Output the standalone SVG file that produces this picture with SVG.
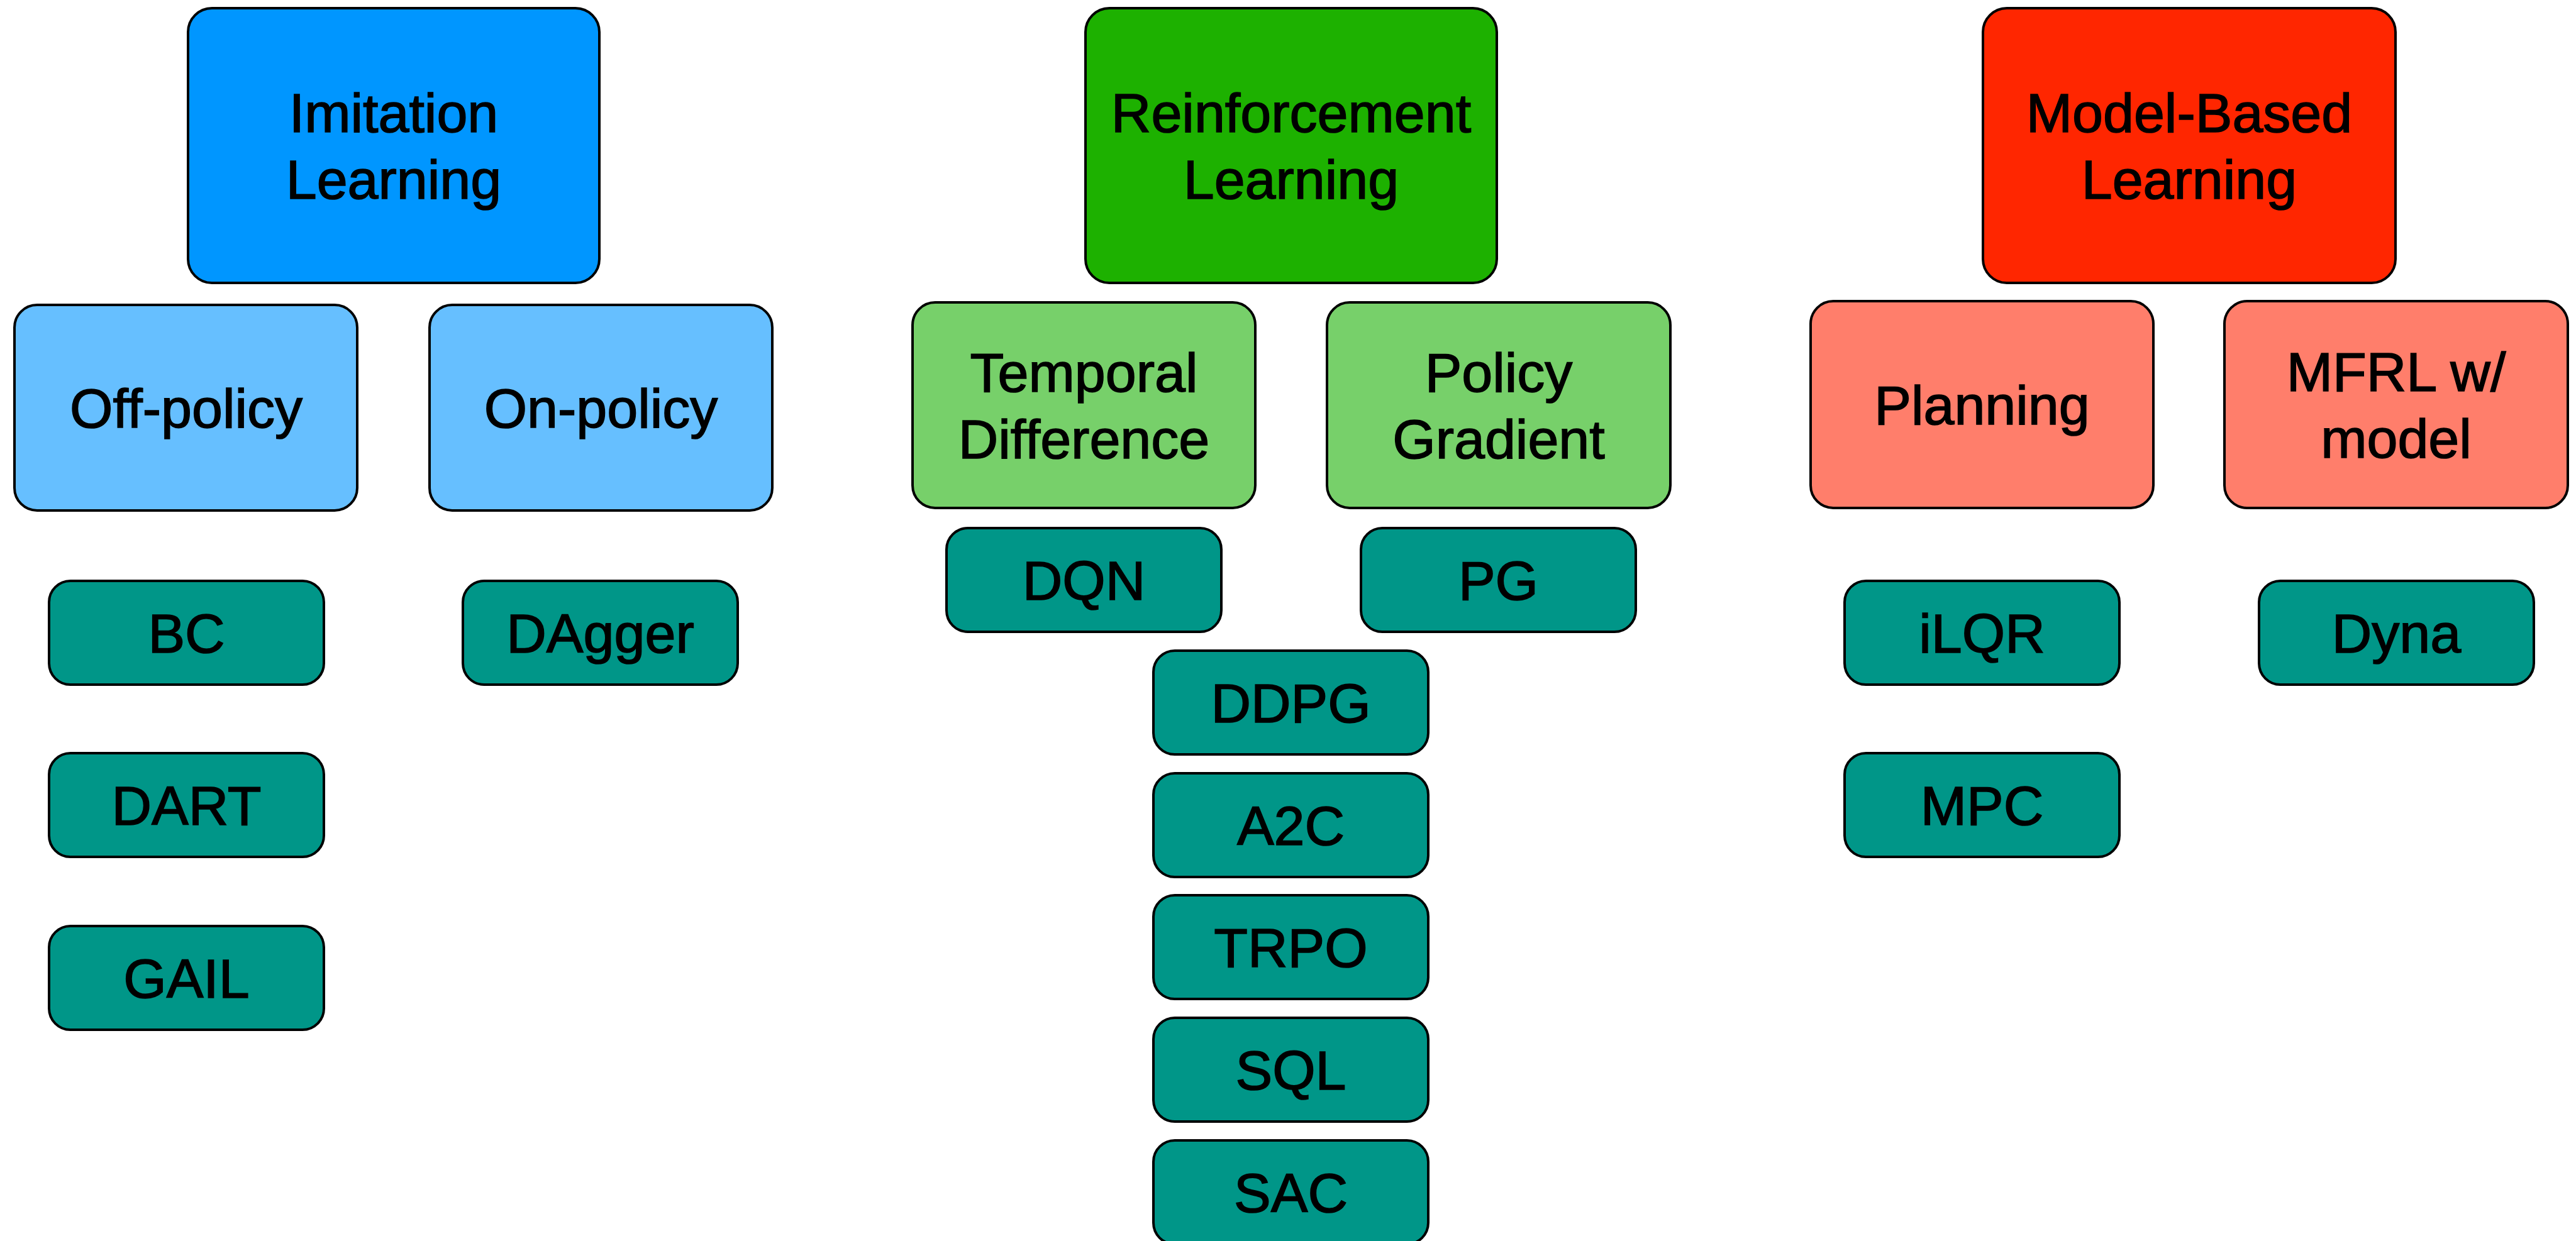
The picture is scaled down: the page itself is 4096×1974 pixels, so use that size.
<svg xmlns="http://www.w3.org/2000/svg" width="4096" height="1974" viewBox="0 0 4096 1974">
  <style>
    .box { stroke: #000; stroke-width: 4; }
    .top { rx: 38px; ry: 38px; }
    .mid { rx: 36px; ry: 36px; }
    .alg { rx: 34px; ry: 34px; fill: #009688; }
    .il  { fill: #0096FF; }
    .il2 { fill: #66BFFF; }
    .rl  { fill: #1DB100; }
    .rl2 { fill: #77D06A; }
    .mb  { fill: #FF2600; }
    .mb2 { fill: #FF7E6B; }
    text { font-family: "Liberation Sans", Arial, Helvetica, sans-serif; font-size: 88px; fill: #000; stroke: #000; stroke-width: 1.6px; text-anchor: middle; }
  </style>
  <rect width="4096" height="1974" fill="#fff"/>

  <!-- Imitation learning branch -->
  <g id="imitation-learning">
    <rect class="box top il" x="299" y="13" width="654" height="437"/>
    <text x="626" y="209.5">Imitation</text>
    <text x="626" y="315.5">Learning</text>
  </g>
  <g id="off-policy">
    <rect class="box mid il2" x="23" y="485" width="545" height="327"/>
    <text x="296" y="679.5">Off-policy</text>
  </g>
  <g id="on-policy">
    <rect class="box mid il2" x="683" y="485" width="545" height="327"/>
    <text x="955.5" y="679.5">On-policy</text>
  </g>
  <g id="bc">
    <rect class="box alg" x="78" y="924" width="437" height="165"/>
    <text x="296.5" y="1037.5">BC</text>
  </g>
  <g id="dart">
    <rect class="box alg" x="78" y="1198" width="437" height="165"/>
    <text x="296.5" y="1311.5">DART</text>
  </g>
  <g id="gail">
    <rect class="box alg" x="78" y="1473" width="437" height="165"/>
    <text x="296.5" y="1586.5">GAIL</text>
  </g>
  <g id="dagger">
    <rect class="box alg" x="736" y="924" width="437" height="165"/>
    <text x="954.5" y="1037.5">DAgger</text>
  </g>

  <!-- Reinforcement learning branch -->
  <g id="reinforcement-learning">
    <rect class="box top rl" x="1726" y="13" width="654" height="437"/>
    <text x="2053" y="209.5">Reinforcement</text>
    <text x="2053" y="315.5">Learning</text>
  </g>
  <g id="temporal-difference">
    <rect class="box mid rl2" x="1451" y="481" width="545" height="327"/>
    <text x="1723.5" y="622.5">Temporal</text>
    <text x="1723.5" y="728.5">Difference</text>
  </g>
  <g id="policy-gradient">
    <rect class="box mid rl2" x="2110" y="481" width="546" height="327"/>
    <text x="2383" y="622.5">Policy</text>
    <text x="2383" y="728.5">Gradient</text>
  </g>
  <g id="dqn">
    <rect class="box alg" x="1505" y="840" width="437" height="165"/>
    <text x="1723.5" y="953.5">DQN</text>
  </g>
  <g id="pg">
    <rect class="box alg" x="2164" y="840" width="437" height="165"/>
    <text x="2382.5" y="953.5">PG</text>
  </g>
  <g id="ddpg">
    <rect class="box alg" x="1834" y="1035" width="437" height="165"/>
    <text x="2052.5" y="1148.5">DDPG</text>
  </g>
  <g id="a2c">
    <rect class="box alg" x="1834" y="1230" width="437" height="165"/>
    <text x="2052.5" y="1343.5">A2C</text>
  </g>
  <g id="trpo">
    <rect class="box alg" x="1834" y="1424" width="437" height="165"/>
    <text x="2052.5" y="1537.5">TRPO</text>
  </g>
  <g id="sql">
    <rect class="box alg" x="1834" y="1619" width="437" height="165"/>
    <text x="2052.5" y="1732.5">SQL</text>
  </g>
  <g id="sac">
    <rect class="box alg" x="1834" y="1814" width="437" height="165"/>
    <text x="2052.5" y="1927.5">SAC</text>
  </g>

  <!-- Model-based learning branch -->
  <g id="model-based-learning">
    <rect class="box top mb" x="3153" y="13" width="656" height="437"/>
    <text x="3481" y="209.5">Model-Based</text>
    <text x="3481" y="315.5">Learning</text>
  </g>
  <g id="planning">
    <rect class="box mid mb2" x="2879" y="479" width="545" height="329"/>
    <text x="3151.5" y="674.5">Planning</text>
  </g>
  <g id="mfrl-with-model">
    <rect class="box mid mb2" x="3537" y="479" width="546" height="329"/>
    <text x="3810" y="621.5">MFRL w/</text>
    <text x="3810" y="727.5">model</text>
  </g>
  <g id="ilqr">
    <rect class="box alg" x="2933" y="924" width="437" height="165"/>
    <text x="3151.5" y="1037.5">iLQR</text>
  </g>
  <g id="mpc">
    <rect class="box alg" x="2933" y="1198" width="437" height="165"/>
    <text x="3151.5" y="1311.5">MPC</text>
  </g>
  <g id="dyna">
    <rect class="box alg" x="3592" y="924" width="437" height="165"/>
    <text x="3810.5" y="1037.5">Dyna</text>
  </g>
</svg>
